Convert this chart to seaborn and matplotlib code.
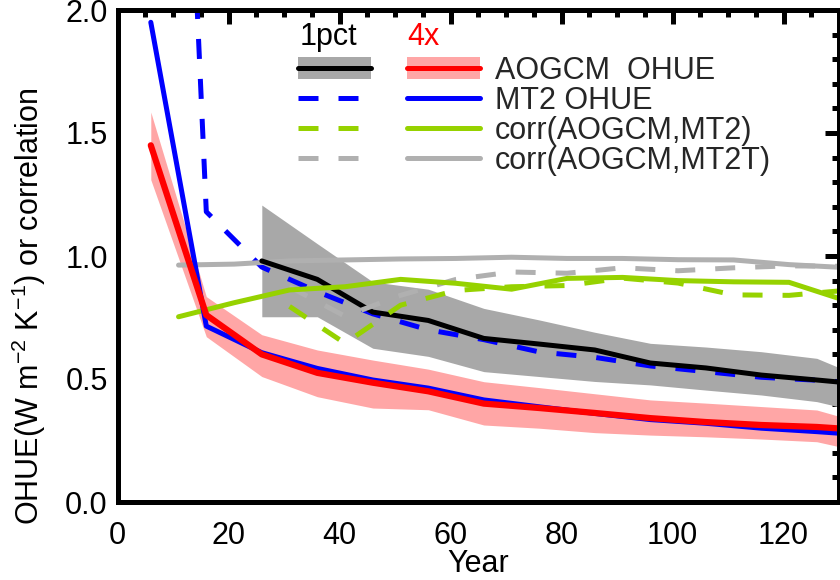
import matplotlib
matplotlib.use("Agg")
import matplotlib.pyplot as plt
import seaborn as sns
import numpy as np
from matplotlib.lines import Line2D
from matplotlib.patches import Patch

nan = np.nan

# OHUE is given per decade, correlations are offset by 5 years
year = [6, 16, 26, 36, 46, 56, 66, 76, 86, 96, 106, 116, 126, 136]
year_corr = [11, 21, 31, 41, 51, 61, 71, 81, 91, 101, 111, 121, 131]

# abrupt 4xCO2
aogcm_4x = [1.45, 0.76, 0.60, 0.525, 0.485, 0.45, 0.40, 0.382, 0.362, 0.341, 0.325, 0.313, 0.305, 0.29]
aogcm_4x_hi = [1.585, 0.835, 0.68, 0.618, 0.577, 0.54, 0.489, 0.465, 0.44, 0.415, 0.402, 0.388, 0.374, 0.31]
aogcm_4x_lo = [1.31, 0.672, 0.51, 0.428, 0.382, 0.375, 0.313, 0.30, 0.282, 0.272, 0.265, 0.256, 0.245, 0.195]
mt2_4x = [1.95, 0.715, 0.607, 0.543, 0.496, 0.463, 0.415, 0.387, 0.36, 0.335, 0.32, 0.30, 0.286, 0.27]

# 1pct CO2
aogcm_1pct = [nan, nan, 0.98, 0.905, 0.772, 0.738, 0.665, 0.642, 0.618, 0.565, 0.545, 0.516, 0.496, 0.475]
aogcm_1pct_hi = [nan, nan, 1.207, 1.05, 0.895, 0.865, 0.787, 0.74, 0.69, 0.645, 0.63, 0.611, 0.584, 0.49]
aogcm_1pct_lo = [nan, nan, 0.753, 0.753, 0.625, 0.592, 0.53, 0.51, 0.49, 0.476, 0.455, 0.435, 0.408, 0.355]
mt2_1pct = [6.2, 1.18, 0.955, 0.855, 0.765, 0.70, 0.66, 0.61, 0.588, 0.553, 0.53, 0.507, 0.495, 0.48]

# correlations
corr_mt2_4x = [0.753, 0.81, 0.862, 0.875, 0.905, 0.889, 0.865, 0.909, 0.913, 0.90, 0.895, 0.893, 0.82]
corr_mt2t_4x = [0.963, 0.967, 0.98, 0.984, 0.988, 0.99, 0.995, 0.99, 0.99, 0.985, 0.984, 0.965, 0.953]
corr_mt2_1pct = [nan, nan, 0.795, 0.645, 0.80, 0.86, 0.875, 0.88, 0.91, 0.89, 0.842, 0.84, 0.86]
corr_mt2t_1pct = [nan, nan, 0.875, 0.755, 0.84, 0.905, 0.935, 0.93, 0.952, 0.94, 0.952, 0.96, 0.958]

RED = "#ff0000"
PINK = "#ffa6a6"
BLUE = "#0000ff"
GREEN = "#96d200"
LGRAY = "#b0b0b0"
BAND = "#a8a8a8"
DASH = (0, (4, 4))
LW = 3.6
FS = 22

sns.set_style("white")
plt.rcParams["font.family"] = ["Liberation Sans", "DejaVu Sans"]
plt.rcParams["mathtext.fontset"] = "custom"
plt.rcParams["mathtext.rm"] = "Liberation Sans"
plt.rcParams["mathtext.it"] = "Liberation Sans"

fig = plt.figure(figsize=(8.4, 5.8), dpi=100)
ax = fig.add_axes([117.5 / 840, 1 - 502 / 580, (839 - 117.5) / 840, 492 / 580])

ax.fill_between(year, aogcm_1pct_lo, aogcm_1pct_hi, color=BAND, lw=0)
ax.fill_between(year, aogcm_4x_lo, aogcm_4x_hi, color=PINK, lw=0)

sns.lineplot(x=year, y=mt2_1pct, color=BLUE, lw=LW, linestyle=DASH, ax=ax)
sns.lineplot(x=year_corr, y=corr_mt2t_4x, color=LGRAY, lw=LW, ax=ax)
sns.lineplot(x=year, y=aogcm_1pct, color="black", lw=LW, ax=ax)
sns.lineplot(x=year_corr, y=corr_mt2t_1pct, color=LGRAY, lw=LW, linestyle=DASH, ax=ax)
sns.lineplot(x=year_corr, y=corr_mt2_1pct, color=GREEN, lw=LW, linestyle=DASH, ax=ax)
sns.lineplot(x=year_corr, y=corr_mt2_4x, color=GREEN, lw=LW, ax=ax)
sns.lineplot(x=year, y=mt2_4x, color=BLUE, lw=LW, ax=ax)
sns.lineplot(x=year, y=aogcm_4x, color=RED, lw=4.5, ax=ax)

ax.set_xlim(0, 130)
ax.set_ylim(0, 2.0)
ax.set_xticks(range(0, 121, 20))
ax.set_xticks(range(0, 131, 5), minor=True)
ax.set_yticks([0, 0.5, 1.0, 1.5, 2.0])
ax.set_yticklabels(["0.0", "0.5", "1.0", "1.5", "2.0"])
ax.set_yticks(np.arange(0, 2.01, 0.1), minor=True)
ax.tick_params(which="both", direction="in", top=True, right=True,
               width=LW, color="black", labelsize=FS, labelcolor="black")
ax.tick_params(which="major", length=10)
ax.tick_params(which="minor", length=5)
ax.tick_params(axis="x", pad=14)
ax.tick_params(axis="y", pad=7)
for sp in ax.spines.values():
    sp.set_linewidth(LW)
    sp.set_color("black")

ax.set_xlabel("Year", fontsize=FS, color="black")
ax.xaxis.label.set_verticalalignment("baseline")
ax.xaxis.set_label_coords(0.5, -0.142)
ax.set_ylabel("OHUE(W m$^{-2}$ K$^{-1}$) or correlation", fontsize=FS, color="black")
ax.yaxis.set_label_coords(-0.096, 0.398)

# legend: left column 1pct (dashed), right column 4x (solid)
col_1pct = [
    (Patch(fc=BAND, ec="none"), Line2D([], [], color="black", lw=LW)),
    Line2D([], [], color=BLUE, lw=LW, linestyle=DASH),
    Line2D([], [], color=GREEN, lw=LW, linestyle=DASH),
    Line2D([], [], color=LGRAY, lw=LW, linestyle=DASH),
]
col_4x = [
    (Patch(fc=PINK, ec="none"), Line2D([], [], color=RED, lw=LW)),
    Line2D([], [], color=BLUE, lw=LW),
    Line2D([], [], color=GREEN, lw=LW),
    Line2D([], [], color=LGRAY, lw=LW),
]
labels = ["AOGCM  OHUE", "MT2 OHUE", "corr(AOGCM,MT2)", "corr(AOGCM,MT2T)"]
ax.legend(col_1pct + col_4x, [""] * 4 + labels, ncol=2, fontsize=FS, frameon=False,
          handlelength=2.39, handleheight=0.72, handletextpad=0.49, columnspacing=0.69,
          labelspacing=0.0, borderpad=0, borderaxespad=0, loc="upper left",
          bbox_to_anchor=(298 / 840, 1 - 56 / 580), bbox_transform=fig.transFigure)
fig.text(300 / 840, 1 - 45 / 580, "1pct", fontsize=FS, color="black", ha="left", va="baseline")
fig.text(407 / 840, 1 - 45 / 580, "4x", fontsize=FS, color=RED, ha="left", va="baseline")

fig.savefig("out.png", dpi=100)
